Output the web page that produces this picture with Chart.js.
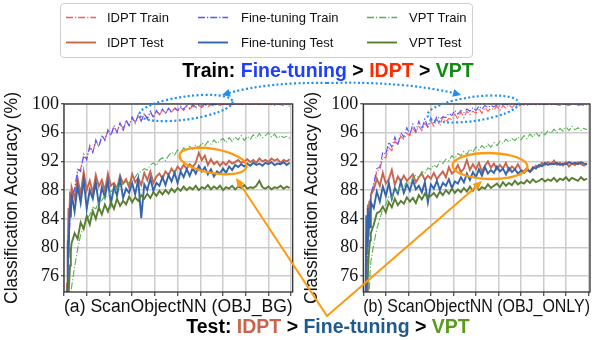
<!DOCTYPE html>
<html><head><meta charset="utf-8">
<script src="https://cdn.jsdelivr.net/npm/chart.js@4"></script>
<style>
body{margin:0;width:604px;height:340px;background:#fff;position:relative;overflow:hidden;font-family:"Liberation Sans",Arial,sans-serif;}
canvas{position:absolute;}
#ov{position:absolute;left:0;top:0;}
.t{position:absolute;white-space:nowrap;}
.lg{position:absolute;font-size:13px;line-height:15px;color:#111;white-space:nowrap;}
</style></head><body>
<div style="position:absolute;left:60px;top:3px;width:411px;height:53px;border:1px solid #cfcfcf;border-radius:4px;"></div>
<canvas id="ca" width="300" height="230" style="left:0;top:88px"></canvas>
<canvas id="cb" width="304" height="230" style="left:300px;top:88px"></canvas>
<svg id="ov" width="604" height="340" viewBox="0 0 604 340"></svg>
<div class="lg" style="left:107px;top:10px">IDPT Train</div>
<div class="lg" style="left:241px;top:10px">Fine-tuning Train</div>
<div class="lg" style="left:409px;top:10px">VPT Train</div>
<div class="lg" style="left:107px;top:35px">IDPT Test</div>
<div class="lg" style="left:241px;top:35px">Fine-tuning Test</div>
<div class="lg" style="left:409px;top:35px">VPT Test</div>
<div class="t" style="left:328px;top:58px;transform:translateX(-50%);font-weight:bold;font-size:19.5px;line-height:24px;color:#000">Train: <span style="color:#1f3fff">Fine-tuning</span> &gt; <span style="color:#ff2a00">IDPT</span> &gt; <span style="color:#108a10">VPT</span></div>
<div class="t" style="left:328px;top:314px;transform:translateX(-50%);font-weight:bold;font-size:19.5px;line-height:24px;color:#000">Test: <span style="color:#c8664d">IDPT</span> &gt; <span style="color:#1f5a8c">Fine-tuning</span> &gt; <span style="color:#5b9a1c">VPT</span></div>
<script>
// ---------- data ----------
const epochs = [1,2,3,4,5,6,7,8,9,10,14,18,22,26,30,34,38,42,46,50,54,58,62,66,70,74,78,82,86,90,94,98,102,106,110,114,118,122,126,130,134,138,142,146,150,154,158,162,166,170,174,178,182,186,190,194,198,202,206,210,214,218,222,226,230,234,238,242,246,250,254,258,262,266,270,274,278,282,286,290,294,298];
const yTicks = [76,80,84,88,92,96,100];
const xTicks = [0,30,60,90,120,150,180,210,240,270,300];
const seriesNames = ['IDPT Train','Fine-tuning Train','VPT Train','IDPT Test','Fine-tuning Test','VPT Test'];
const panelTitles = ['(a) ScanObjectNN (OBJ_BG)','(b) ScanObjectNN (OBJ_ONLY)'];
const yTitle = 'Classification Accuracy (%)';

// (a) OBJ_BG
const a_idptTrain = [45,58,66,72,76.5,79.5,82.5,84.2,85.8,86.9,
 88.2,90.6,91.0,92.6,92.5,93.9,93.4,94.7,94.1,95.4,
 95.2,96.1,95.7,96.8,96.1,97.3,96.6,97.6,97.0,98.0,
 97.5,98.3,97.7,98.6,98.0,98.8,98.2,99.0,98.5,99.1,
 98.7,99.3,98.8,99.4,99.0,99.5,99.1,99.6,99.3,99.7,
 99.4,99.8,99.5,99.9,99.6,99.9,99.7,100.0,99.8,100.0,
 99.9,100.0,99.9,100.0,100.0,99.9,100.0,100.0,99.9,100.0,
 100.0,99.9,100.0,99.9,100.0,99.9,99.8,100.0,99.9,99.8,99.9,99.7];
const a_ftTrain = [40,55,64,71,75.5,79,81.8,84.0,85.3,87.2,
 88.0,90.9,90.6,93.0,92.2,94.2,93.2,95.0,94.0,95.7,
 94.9,96.4,95.6,97.0,96.0,97.4,96.2,97.8,97.0,98.2,
 97.3,98.5,97.6,98.7,97.9,99.0,98.1,99.1,98.5,99.3,
 98.7,99.4,98.9,99.5,99.1,99.7,99.3,99.8,99.4,99.9,
 99.6,99.9,99.7,100.0,99.8,100.0,99.9,100.0,100.0,100.0,
 100.0,100.0,100.0,100.0,100.0,100.0,100.0,100.0,100.0,100.0,
 100.0,100.0,100.0,100.0,100.0,100.0,100.0,100.0,100.0,100.0,100.0,100.0];
const a_vptTrain = [30,40,48,55,60,64,67,70,72.5,74.5,
 77.3,79.8,81.8,82.9,84.0,84.5,85.6,85.4,86.3,86.6,
 87.2,87.0,87.9,87.6,88.3,88.5,88.9,89.2,89.0,89.7,
 89.8,90.4,90.6,91.0,90.8,91.5,91.8,91.4,92.2,92.5,
 92.1,92.8,93.3,92.9,93.6,93.2,93.9,93.5,94.1,93.7,
 94.3,93.9,94.6,94.2,94.8,94.4,95.0,94.5,94.9,95.2,
 94.6,95.3,94.8,95.4,95.0,95.6,94.9,95.5,95.1,95.7,
 95.2,95.9,95.3,95.6,96.0,95.4,95.8,95.2,95.6,95.3,95.5,95.2];
const a_idptTest = [50,62,70,75,80,85.5,84.0,87.8,85.5,88.4,
 86.9,89.6,87.4,90.5,88.0,89.3,87.6,90.1,88.5,89.4,
 87.9,90.3,88.6,89.0,88.2,90.0,88.9,89.5,88.4,90.2,
 89.1,89.7,88.7,90.4,89.4,90.6,89.0,89.9,90.3,89.6,
 90.6,90.1,91.0,90.4,91.3,90.8,91.5,91.0,91.6,91.2,
 91.8,93.2,92.2,92.8,91.5,92.3,91.6,92.0,91.4,91.9,
 91.5,92.1,91.7,91.9,92.2,91.8,92.0,92.3,91.9,92.2,
 91.8,92.4,92.0,92.2,91.9,92.4,92.1,92.3,91.8,92.2,92.0,92.3];
const a_ftTest = [45,60,70,74,81,78.5,83.5,86.0,84.2,87.5,
 85.0,88.6,86.2,89.5,85.4,88.0,86.8,89.1,85.9,88.4,
 87.0,89.3,86.1,88.5,87.2,89.6,86.9,88.2,87.6,89.0,
 87.4,89.5,84.1,88.8,88.0,89.6,87.9,89.0,88.6,89.8,
 88.7,90.1,89.2,90.4,89.0,90.6,89.8,90.9,90.0,91.1,
 90.3,91.4,90.6,91.2,90.2,90.9,89.9,90.6,90.3,91.0,
 90.4,91.3,90.8,91.5,91.2,91.6,91.3,91.7,91.4,91.8,
 91.5,91.7,91.4,91.8,91.6,91.9,91.5,91.7,91.6,91.9,91.5,91.8];
const a_vptTest = [35,50,60,66,70,73,75.5,77.5,79.5,80.6,
 82.0,81.2,83.5,82.6,84.4,83.2,85.1,84.0,85.6,84.6,
 86.0,85.0,86.3,85.4,86.8,85.8,86.5,86.0,87.1,86.3,
 87.0,86.5,87.3,86.8,87.5,86.9,87.7,87.2,87.9,87.4,
 88.0,87.5,88.2,87.7,88.3,87.9,88.5,88.0,88.4,88.1,
 88.6,88.0,88.4,88.2,88.7,88.1,88.5,88.2,88.6,88.0,
 88.4,88.2,88.6,88.1,88.5,88.3,88.7,88.2,88.4,88.3,
 88.6,89.3,88.4,88.2,88.5,88.1,88.4,88.3,88.6,88.2,88.5,88.3];

// (b) OBJ_ONLY
const b_idptTrain = [42,56,66,73,77.5,80.5,83.0,84.6,86.0,87.0,
 88.5,90.6,90.9,92.5,92.5,93.9,93.5,94.8,94.4,95.5,
 95.1,95.9,95.6,96.6,96.0,96.9,96.3,97.3,96.8,97.6,
 96.9,97.9,97.0,98.2,97.5,98.0,97.8,98.6,97.9,98.9,
 98.1,99.0,98.5,99.0,98.7,99.4,98.7,99.5,99.0,99.4,
 99.2,99.7,99.1,99.8,99.4,99.9,99.5,99.9,99.6,99.9,
 99.9,99.8,99.9,100.0,99.9,99.9,100.0,99.9,100.0,99.9,
 100.0,99.9,99.8,100.0,99.9,99.8,100.0,99.9,99.8,99.9,99.8,99.9];
const b_ftTrain = [40,54,65,72,76.5,80,82.0,84.5,85.6,87.4,
 89.0,91.0,91.2,93.3,93.0,94.7,94.0,95.4,94.3,96.0,
 95.4,96.7,95.7,97.2,96.2,97.6,96.5,97.9,96.8,98.1,
 97.2,98.3,97.9,98.2,98.1,98.7,98.4,99.1,98.6,99.1,
 98.8,99.3,99.0,99.5,99.1,99.7,99.3,99.8,99.5,99.8,
 99.6,99.9,99.7,100.0,99.9,100.0,100.0,100.0,99.9,100.0,
 100.0,100.0,100.0,100.0,100.0,100.0,100.0,100.0,100.0,100.0,
 100.0,100.0,100.0,100.0,100.0,100.0,100.0,100.0,100.0,100.0,100.0,100.0];
const b_vptTrain = [30,42,52,59,64,68,71.5,74,76.5,78,
 80.5,82.6,84.0,85.4,86.0,87.2,86.9,88.0,87.8,88.6,
 88.4,89.2,89.0,89.7,90.1,89.8,90.6,90.3,91.1,90.9,
 91.5,91.2,92.0,91.7,92.3,92.1,92.8,92.4,93.1,92.8,
 93.4,93.0,93.7,93.3,94.0,93.6,94.2,93.8,94.4,94.0,
 94.6,94.2,94.8,94.5,95.1,94.7,95.2,94.9,95.4,95.0,
 95.6,95.2,95.8,95.4,96.0,95.5,96.1,95.7,96.3,95.9,
 96.5,96.0,96.6,96.2,96.8,96.3,96.9,96.4,96.7,96.3,96.6,96.4];
const b_idptTest = [50,62,71,78,82.5,86.0,84.0,86.5,85.2,87.4,
 88.1,89.6,88.6,90.4,88.9,89.5,90.8,88.7,89.9,89.2,
 90.0,89.3,89.7,90.2,89.1,89.8,90.3,89.4,90.0,89.6,
 90.4,89.5,90.1,90.6,89.8,91.2,90.3,90.7,91.5,90.5,
 91.0,92.2,90.8,91.6,90.9,91.8,90.6,91.4,92.0,91.1,
 91.7,90.9,91.5,91.0,91.8,90.7,91.3,90.9,91.6,90.8,
 90.6,91.1,90.5,90.9,91.4,91.2,91.8,91.5,91.9,91.6,
 92.1,91.5,91.8,91.4,91.9,91.3,91.7,91.5,91.9,91.6,91.4,91.7];
const b_ftTest = [45,60,72,84.5,80.2,85.5,81.5,84.8,82.8,86.3,
 85.5,87.8,86.4,88.5,87.2,89.0,86.8,88.3,87.5,89.2,
 87.6,88.8,87.9,89.4,88.1,88.6,87.7,89.1,86.3,88.8,
 88.2,89.3,88.0,89.0,88.6,89.5,88.3,89.2,88.9,89.8,
 89.1,90.3,89.4,90.5,89.8,90.9,90.0,91.2,90.3,90.8,
 90.4,91.3,90.6,91.0,90.2,91.1,90.5,90.9,90.3,90.7,
 90.4,90.8,90.6,91.2,91.0,91.5,91.3,91.8,91.5,91.7,
 91.6,91.8,91.5,91.7,91.6,91.9,91.7,91.8,91.6,91.9,91.7,91.6];
const b_vptTest = [35,50,62,68,72,76,78.5,80,81,82,
 83.2,84.8,85.0,85.7,84.9,86.3,85.6,86.8,85.9,86.5,
 86.1,87.0,86.4,86.9,86.2,87.3,86.7,87.5,86.9,87.2,
 87.6,87.0,87.8,87.3,88.0,87.5,88.2,87.6,88.1,87.7,
 88.3,87.8,88.5,87.9,88.6,88.0,88.4,88.2,88.8,88.3,
 88.6,88.9,88.4,89.1,88.6,89.0,88.7,89.3,88.8,89.1,
 88.9,89.4,89.0,89.5,89.1,89.3,89.6,89.2,89.5,89.3,
 89.7,89.2,89.6,89.4,89.8,89.3,89.7,89.5,89.3,89.8,89.4,89.6];

// ---------- styles ----------
const COL = {idptTrain:'#ff5555', ftTrain:'#5555ff', vptTrain:'#55b255',
             idptTest:'#c8664d', ftTest:'#3565a8', vptTest:'#5a7d33'};
const DASHDOT = [7,2,1.2,2];

[a_idptTrain,a_ftTrain,a_vptTrain,a_idptTest,a_ftTest,a_vptTest,b_idptTrain,b_ftTrain,b_vptTrain,b_idptTest,b_ftTest,b_vptTest].forEach((s,i)=>{
  if (s.length !== epochs.length) throw new Error('series '+i+' length '+s.length);
});

function pts(vals){ return epochs.map((e,i)=>({x:e,y:vals[i]})); }

const framePlugin = {id:'frame', afterDatasetsDraw(c){
  const a=c.chartArea, ctx=c.ctx; ctx.save(); ctx.strokeStyle='#333'; ctx.lineWidth=1.3;
  ctx.strokeRect(a.left,a.top,a.right-a.left,a.bottom-a.top); ctx.restore(); }};

function makeChart(id, s, yw, padRight, title){
  const ds = (label, data, color, w, dash) => ({label, data: pts(data), borderColor: color, borderWidth: w,
      borderDash: dash || [], pointRadius: 0, tension: 0, fill: false});
  return new Chart(document.getElementById(id), {
    type:'line',
    data:{datasets:[
      ds(seriesNames[5], s.vptTest, COL.vptTest, 1.9),
      ds(seriesNames[2], s.vptTrain, COL.vptTrain, 1.1, DASHDOT),
      ds(seriesNames[4], s.ftTest, COL.ftTest, 1.9),
      ds(seriesNames[1], s.ftTrain, COL.ftTrain, 1.1, DASHDOT),
      ds(seriesNames[3], s.idptTest, COL.idptTest, 1.9),
      ds(seriesNames[0], s.idptTrain, COL.idptTrain, 1.1, DASHDOT)
    ]},
    options:{
      responsive:false, animation:false, devicePixelRatio:1,
      layout:{padding:{top:16,right:padRight,bottom:0,left:0}},
      plugins:{legend:{display:false}, tooltip:{enabled:false}},
      scales:{
        x:{type:'linear', min:0, max:302,
           afterBuildTicks:sc=>{sc.ticks = xTicks.map(v=>({value:v}));},
           afterFit:sc=>{sc.height = 26;},
           ticks:{display:false},
           grid:{color:'#cccccc', lineWidth:1.5, drawTicks:true, tickLength:4, tickColor:'#333', tickWidth:1.1},
           border:{display:false},
           title:{display:true, text:title, color:'#111', padding:{top:0,bottom:0},
                  font:{family:'Liberation Sans', size:18}}},
        y:{type:'linear', min:73.8, max:100,
           afterBuildTicks:sc=>{sc.ticks = yTicks.map(v=>({value:v}));},
           afterFit:sc=>{sc.width = yw;},
           ticks:{color:'#111', padding:2, font:{family:'Liberation Serif', size:18}},
           grid:{color:'#cccccc', lineWidth:1.5, drawTicks:true, tickLength:3, tickColor:'#333', tickWidth:1.1},
           border:{display:false},
           title:{display:true, text:yTitle, color:'#111', padding:{top:2,bottom:0},
                  font:{family:'Liberation Sans', size:17.5}}}
      }
    },
    plugins:[framePlugin]
  });
}

makeChart('ca', {idptTrain:a_idptTrain, ftTrain:a_ftTrain, vptTrain:a_vptTrain, idptTest:a_idptTest, ftTest:a_ftTest, vptTest:a_vptTest}, 64, 7.3, panelTitles[0]);
makeChart('cb', {idptTrain:b_idptTrain, ftTrain:b_ftTrain, vptTrain:b_vptTrain, idptTest:b_idptTest, ftTest:b_ftTest, vptTest:b_vptTest}, 63.3, 14, panelTitles[1]);

// ---------- overlay annotations ----------
const NS='http://www.w3.org/2000/svg', svg=document.getElementById('ov');
function el(tag, attrs){ const e=document.createElementNS(NS,tag); for(const k in attrs) e.setAttribute(k,attrs[k]); svg.appendChild(e); return e; }
function head(x,y,dx,dy,len,wid,color){
  const L=Math.hypot(dx,dy), ux=dx/L, uy=dy/L, px=-uy, py=ux;
  const bx=x-ux*len, by=y-uy*len;
  el('polygon',{points:`${x},${y} ${bx+px*wid},${by+py*wid} ${bx-px*wid},${by-py*wid}`, fill:color});
}
// legend samples
const legendRows=[17.5,42.5], legendCols=[66,198,367];
const legendStyles=[[COL.idptTrain,COL.ftTrain,COL.vptTrain],[COL.idptTest,COL.ftTest,COL.vptTest]];
legendRows.forEach((y,r)=>legendCols.forEach((x,c)=>{
  el('line',{x1:x,y1:y,x2:x+30,y2:y,stroke:legendStyles[r][c],'stroke-width':r?1.9:1.3,'stroke-dasharray':r?'none':DASHDOT.join(' ')});
}));
const BLUE='#1f8fef', ORANGE='#ff9a10';
// blue dotted ellipses and arcs
el('ellipse',{cx:186,cy:108,rx:47,ry:11.5,transform:'rotate(-8 186 108)',fill:'none',stroke:BLUE,'stroke-width':2.2,'stroke-dasharray':'2 2.4'});
el('ellipse',{cx:473,cy:109,rx:46,ry:12,transform:'rotate(-8 473 109)',fill:'none',stroke:BLUE,'stroke-width':2.2,'stroke-dasharray':'2 2.4'});
el('path',{d:'M327,83 Q268,82 229,93',fill:'none',stroke:BLUE,'stroke-width':2.2,'stroke-dasharray':'2 2.4'});
el('path',{d:'M327,83 Q400,81 454,93',fill:'none',stroke:BLUE,'stroke-width':2.2,'stroke-dasharray':'2 2.4'});
head(222,95,-42,12,8,4,BLUE);
head(461,95,50,13,8,4,BLUE);
// orange ellipses and arrows
el('ellipse',{cx:213,cy:161,rx:34,ry:12,transform:'rotate(10 213 161)',fill:'none',stroke:ORANGE,'stroke-width':2.3});
el('ellipse',{cx:490,cy:166,rx:37.5,ry:13,transform:'rotate(1 490 166)',fill:'none',stroke:ORANGE,'stroke-width':2.3});
el('polyline',{points:'240,184 327,316 477,186',fill:'none',stroke:ORANGE,'stroke-width':2,'stroke-linejoin':'miter'});
head(236,178,-91,-138,9,4,ORANGE);
head(482,181,153,-134,9,4,ORANGE);
</script>
</body></html>
